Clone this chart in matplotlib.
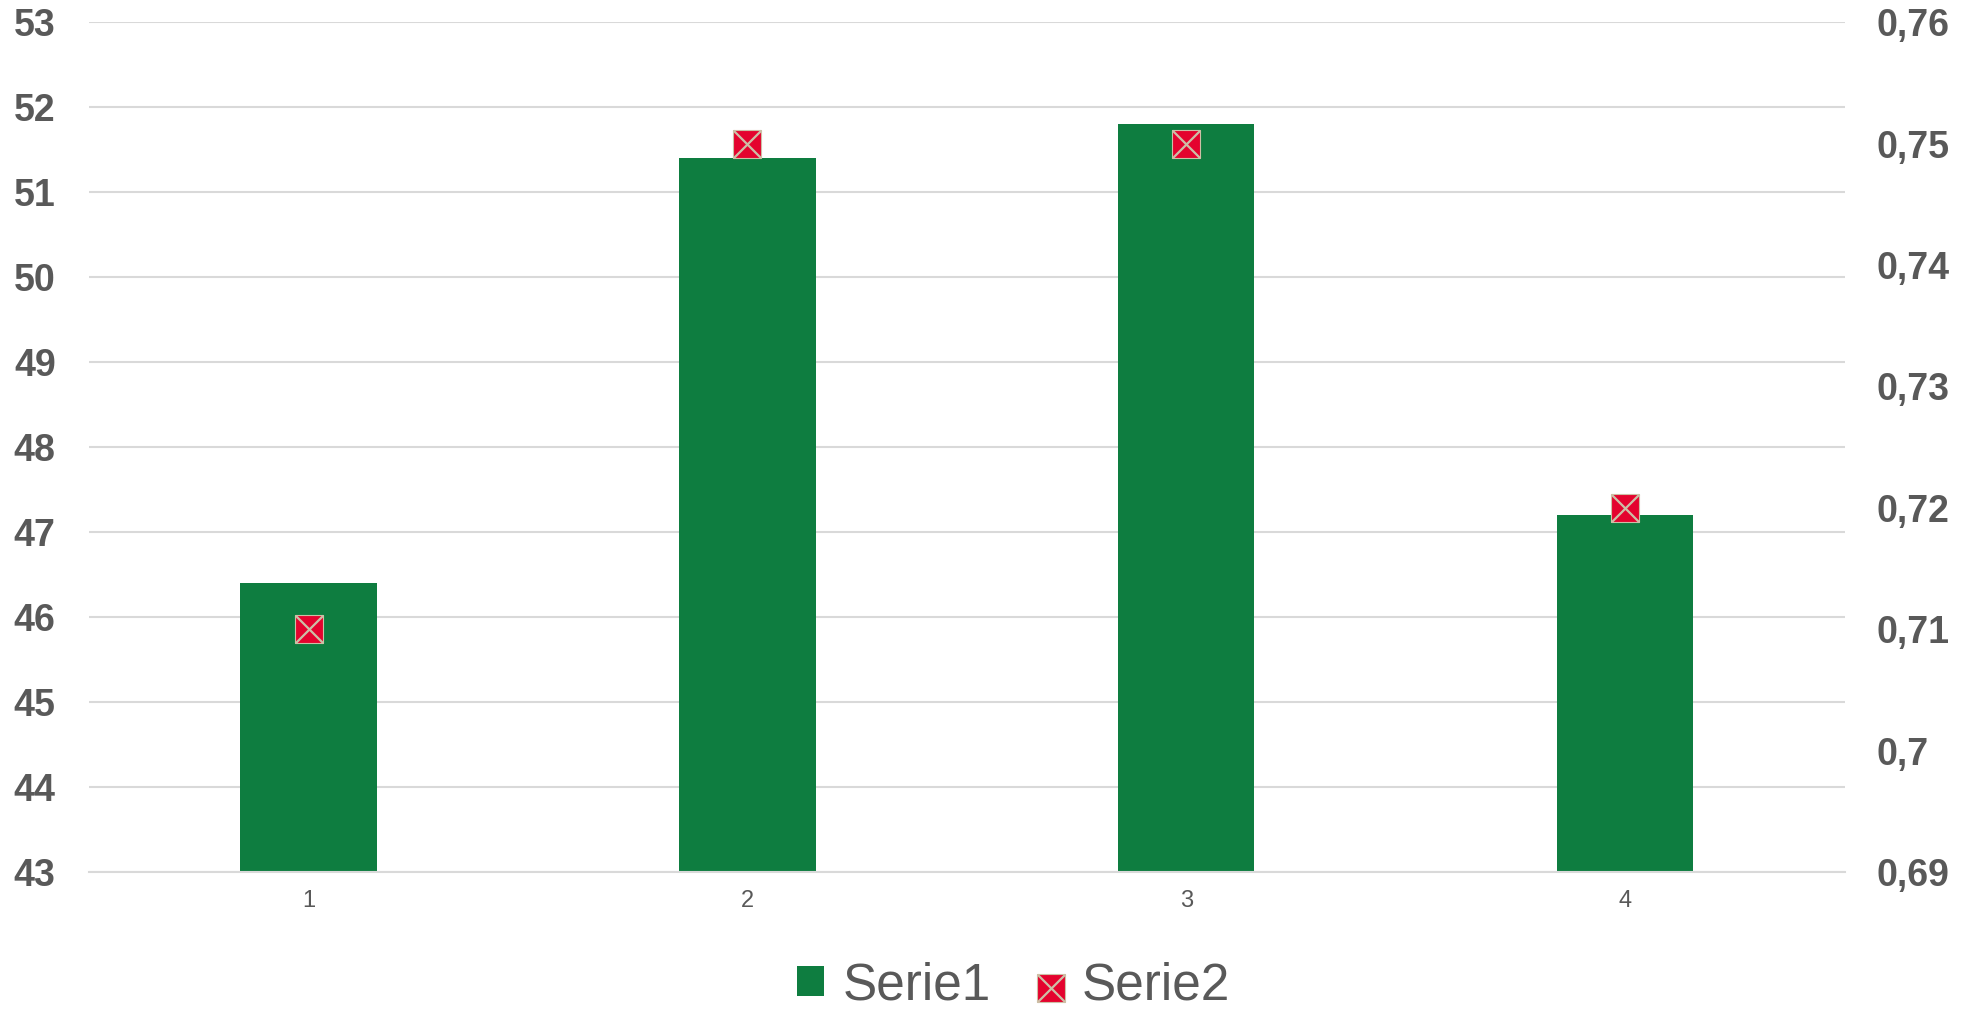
import matplotlib.pyplot as plt
from matplotlib.ticker import MultipleLocator, FuncFormatter

categories = ['1', '2', '3', '4']
serie1 = [46.4, 51.4, 51.8, 47.2]
serie2 = [0.71, 0.75, 0.75, 0.72]

green = '#0E7D40'
red = '#E4032E'
cross = '#CDBFA6'
grey = '#595959'
grid = '#D9D9D9'

plt.rcParams['font.family'] = ['Liberation Sans', 'DejaVu Sans']

fig = plt.figure(figsize=(19.61, 10.09), dpi=100)
ax = fig.add_axes([0.0454, 0.1358, 0.8954, 0.8422])
x = range(1, len(categories) + 1)

ax.bar(x, serie1, width=0.31, bottom=0, color=green, zorder=2, label='Serie1')
ax.set_ylim(43, 53)
ax.set_xlim(0.5, 4.5)
ax.yaxis.set_major_locator(MultipleLocator(1))
ax.grid(axis='y', color=grid, linewidth=1.5, zorder=0)
ax.set_axisbelow(True)
ax.set_xticks(list(x))
ax.set_xticklabels(categories, fontsize=17, color=grey)
ax.tick_params(axis='both', length=0)
ax.tick_params(axis='x', pad=13)
ax.tick_params(axis='y', pad=24)
for lab in ax.get_yticklabels():
    lab.set_fontsize(27)
    lab.set_fontweight('bold')
    lab.set_color(grey)
for s in ['top', 'left', 'right']:
    ax.spines[s].set_visible(False)
ax.spines['bottom'].set_color(grid)
ax.spines['bottom'].set_linewidth(1.5)

ax2 = ax.twinx()
ax2.set_ylim(0.69, 0.76)
ax2.yaxis.set_major_locator(MultipleLocator(0.01))
ax2.yaxis.set_major_formatter(FuncFormatter(lambda v, _: f'{v:.2f}'.rstrip('0').replace('.', ',')))
sq = ax2.scatter(x, serie2, marker='s', s=20 ** 2, color=red, edgecolors=cross, linewidths=0.8, zorder=3)
xx = ax2.scatter(x, serie2, marker='x', s=20 ** 2, color=cross, linewidths=1.6, zorder=4)
ax2.tick_params(axis='y', length=0, pad=23)
for lab in ax2.get_yticklabels():
    lab.set_fontsize(27)
    lab.set_fontweight('bold')
    lab.set_color(grey)
for s in ax2.spines.values():
    s.set_visible(False)

bars = ax.patches[0]
fig.legend([bars, (sq, xx)], ['Serie1', 'Serie2'], loc='center', bbox_to_anchor=(0.517, 0.023),
           ncol=2, frameon=False, fontsize=37, labelcolor=grey, handlelength=0.53, handleheight=0.53,
           handletextpad=0.35, columnspacing=0.9)

fig.savefig('out.png', dpi=100)
